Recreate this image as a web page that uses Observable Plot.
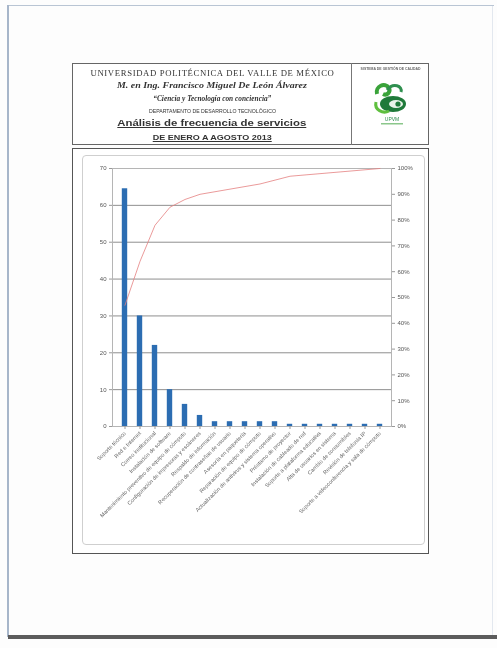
<!DOCTYPE html>
<html><head><meta charset="utf-8">
<script src="https://cdn.jsdelivr.net/npm/d3@7"></script>
<script src="https://cdn.jsdelivr.net/npm/@observablehq/plot@0.6"></script>
<style>
html,body{margin:0;padding:0;background:#fff;}
#page{position:relative;width:497px;height:648px;overflow:hidden;background:#fdfdfd;filter:blur(0.4px);}
.abs{position:absolute;}
.hl{position:absolute;white-space:nowrap;transform-origin:center center;line-height:1;color:#333;}
</style></head><body>
<div id="page">
  <!-- scanned page edges -->
  <div class="abs" style="left:8px;top:5px;width:486px;height:1px;background:#b9c5d4"></div>
  <div class="abs" style="left:7px;top:5px;width:2px;height:632px;background:#a7b6ca"></div>
  <div class="abs" style="left:492px;top:6px;width:1px;height:630px;background:#e3e8ef"></div>
  <div class="abs" style="left:8px;top:635px;width:489px;height:4px;background:#5c5c5c"></div>

  <!-- header box -->
  <div class="abs" style="left:72px;top:63px;width:357px;height:82px;border:1px solid #666;box-sizing:border-box;background:#fff"></div>
  <div class="abs" style="left:351px;top:63px;width:1px;height:82px;background:#777"></div>
  <div class="hl" data-cx="391" data-cy="68" data-w="60" style="font:bold 4px 'Liberation Sans',sans-serif;color:#666">SISTEMA DE GESTIÓN DE CALIDAD</div>
  <svg class="abs" style="left:371px;top:80px" width="42" height="48" viewBox="0 0 42 48">
    <path d="M6 14 C4 6,14 2,18 8 C20 12,16 16,12 14" fill="none" stroke="#3aa33a" stroke-width="4"/>
    <path d="M16 10 C22 2,32 6,30 12" fill="none" stroke="#2f8f4f" stroke-width="3"/>
    <ellipse cx="22" cy="24" rx="13" ry="8" fill="#1f7a3a"/>
    <ellipse cx="25" cy="24" rx="7" ry="4" fill="#e8f3e8"/>
    <circle cx="27" cy="24" r="2.6" fill="#1f7a3a"/>
    <path d="M5 22 C3 30,12 34,18 31" fill="none" stroke="#5fbf3f" stroke-width="3"/>
    <text x="21" y="41" text-anchor="middle" font-family="Liberation Sans,sans-serif" font-size="5" fill="#2f8f4f">UPVM</text>
    <rect x="10" y="43" width="22" height="1.5" fill="#8bc78b"/>
  </svg>

  <!-- chart box -->
  <div class="abs" style="left:72px;top:148px;width:357px;height:406px;border:1px solid #555;box-sizing:border-box;background:#fff"></div>
  <div class="abs" style="left:82px;top:155px;width:343px;height:390px;border:1px solid #cfcfcf;border-radius:4px;box-sizing:border-box"></div>
  <div id="chart" class="abs" style="left:82px;top:155px;width:343px;height:390px"></div>
</div>
<script>
// ---- header texts ----
const headerLines = [
  "UNIVERSIDAD POLITÉCNICA DEL VALLE DE MÉXICO",
  "M. en Ing. Francisco Miguel De León Álvarez",
  "“Ciencia y Tecnología con conciencia”",
  "DEPARTAMENTO DE DESARROLLO TECNOLÓGICO",
  "Análisis de frecuencia de servicios",
  "DE ENERO A AGOSTO 2013"
];
const headerStyles = [
  {cy:73, w:244, font:"8px 'Liberation Serif',serif", ls:"0.6px"},
  {cy:85, w:190, font:"italic bold 9px 'Liberation Serif',serif"},
  {cy:98, w:118, font:"italic bold 8px 'Liberation Serif',serif"},
  {cy:111, w:127, font:"5px 'Liberation Sans',sans-serif"},
  {cy:123, w:189, font:"bold 9px 'Liberation Sans',sans-serif", u:true},
  {cy:137, w:119, font:"bold 7px 'Liberation Sans',sans-serif", u:true}
];
headerLines.forEach((t, i) => {
  const s = headerStyles[i];
  const el = document.createElement("div");
  el.className = "hl";
  el.textContent = t;
  el.style.font = s.font;
  if (s.ls) el.style.letterSpacing = s.ls;
  if (s.u) el.style.textDecoration = "underline";
  el.dataset.cx = 212; el.dataset.cy = s.cy; el.dataset.w = s.w;
  document.getElementById("page").appendChild(el);
});
document.querySelectorAll(".hl").forEach(el => {
  const r = el.getBoundingClientRect();
  const sx = (+el.dataset.w) / r.width;
  el.style.left = (+el.dataset.cx - r.width / 2) + "px";
  el.style.top = (+el.dataset.cy - r.height / 2) + "px";
  el.style.transform = `scaleX(${sx})`;
});

// ---- chart data ----
const categories = [
  "Soporte técnico",
  "Red e Internet",
  "Correo institucional",
  "Instalación de software",
  "Mantenimiento preventivo de equipo de cómputo",
  "Configuración de impresoras y escáneres",
  "Respaldo de información",
  "Recuperación de contraseñas de usuario",
  "Asesoría en paquetería",
  "Reparación de equipo de cómputo",
  "Actualización de antivirus y sistema operativo",
  "Préstamo de proyector",
  "Instalación de cableado de red",
  "Soporte a plataforma educativa",
  "Alta de usuarios en sistema",
  "Cambio de consumibles",
  "Revisión de telefonía IP",
  "Soporte a videoconferencia y sala de cómputo"
];
const frequencies = [64.5, 30, 22, 10, 6, 3, 1.3, 1.3, 1.3, 1.3, 1.3, 0.6, 0.6, 0.6, 0.6, 0.6, 0.6, 0.6];
const cumulativePct = [47, 64, 78, 85, 88, 90, 91, 92, 93, 94, 95.5, 97, 97.5, 98, 98.5, 99, 99.5, 100];
const leftTicks = [0, 10, 20, 30, 40, 50, 60, 70];
const rightTicksPct = [0, 10, 20, 30, 40, 50, 60, 70, 80, 90, 100];

const yMax = 70;
const rows = categories.map((c, i) => ({c, f: frequencies[i], p: cumulativePct[i]}));
const rightTickValues = rightTicksPct.map(p => p * yMax / 100);

const chart = Plot.plot({
  width: 343, height: 390,
  marginLeft: 30, marginRight: 34, marginTop: 13, marginBottom: 119,
  style: {fontFamily: "'Liberation Sans',Arial,sans-serif", fontSize: "6px", color: "#555", background: "transparent"},
  x: {domain: categories, padding: 0, label: null},
  y: {domain: [0, yMax], label: null},
  marks: [
    Plot.gridY(leftTicks, {stroke: "#8f8f8f", strokeOpacity: 1, strokeWidth: 1}),
    Plot.frame({stroke: "#b5b5b5"}),
    Plot.barY(rows, {x: "c", y: "f", fill: "#2c6db2", insetLeft: 4.8, insetRight: 4.8}),
    Plot.line(rows, {x: "c", y: d => d.p * yMax / 100, stroke: "#e58080", strokeWidth: 0.8}),
    Plot.axisY(leftTicks, {anchor: "left", tickSize: 3, tickPadding: 3, fontSize: 6, fill: "#555", stroke: "#999", label: null}),
    Plot.axisY(rightTickValues, {anchor: "right", tickSize: 3, tickPadding: 3, fontSize: 6, fill: "#555", stroke: "#999",
      tickFormat: d => Math.round(d / yMax * 100) + "%", label: null}),
    Plot.axisX({tickRotate: -45, tickSize: 3, tickPadding: 3, fontSize: 5.5, fill: "#666", stroke: "#999", label: null})
  ]
});
document.getElementById("chart").appendChild(chart);
</script>
</body></html>
